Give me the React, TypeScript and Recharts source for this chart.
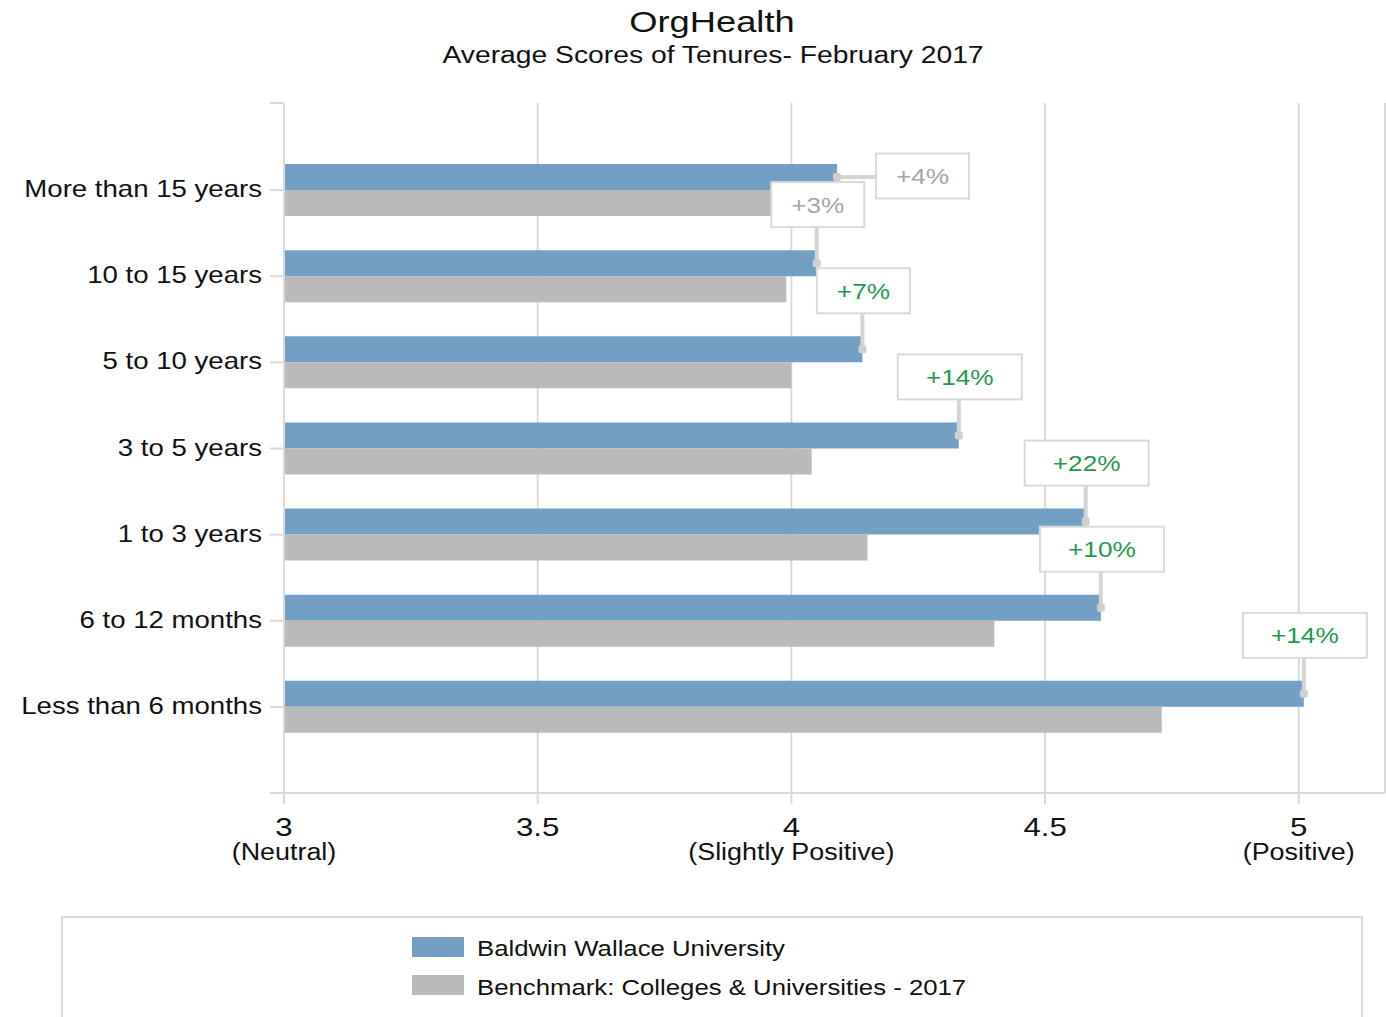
import React from "react";
import * as R from "recharts";

const { BarChart, Bar, XAxis, YAxis, CartesianGrid, LabelList } = R;

const TENURES = [
  "More than 15 years",
  "10 to 15 years",
  "5 to 10 years",
  "3 to 5 years",
  "1 to 3 years",
  "6 to 12 months",
  "Less than 6 months",
];
const BW_SCORES = [4.09, 4.05, 4.14, 4.33, 4.58, 4.61, 5.01];
const BENCHMARK_SCORES = [3.98, 3.99, 4.0, 4.04, 4.15, 4.4, 4.73];
const DIFF_LABELS = ["+4%", "+3%", "+7%", "+14%", "+22%", "+10%", "+14%"];
const DIFF_SIGNIFICANT = [false, false, true, true, true, true, true];
const X_TICKS = [3, 3.5, 4, 4.5, 5];
const X_TICK_NOTES: Record<number, string> = { 3: "(Neutral)", 4: "(Slightly Positive)", 5: "(Positive)" };
const X_MIN = 3;
const X_MAX = 5.17;

const BLUE = "#739fc4";
const GRAY = "#bababa";
const LINE = "#d9d9d9";
const FONT = "'Liberation Sans', Arial, sans-serif";

const data = TENURES.map((t, i) => ({
  tenure: t,
  bw: BW_SCORES[i],
  bench: BENCHMARK_SCORES[i],
  diff: DIFF_LABELS[i],
}));

// the source renders text horizontally stretched, so scale glyphs around the anchor
function WideText({ x, y, anchor = "start", size, sx = 1.2, fill = "#111", children }: any) {
  return (
    <text
      transform={`translate(${x},${y}) scale(${sx},1)`}
      x={0}
      y={0}
      textAnchor={anchor}
      fontSize={size}
      fontFamily={FONT}
      fill={fill}
    >
      {children}
    </text>
  );
}

function CategoryTick({ x, y, payload }: any) {
  return (
    <WideText x={x} y={y + 7} anchor="end" size={23} sx={1.2}>
      {payload.value}
    </WideText>
  );
}

function ValueTick({ x, y, payload }: any) {
  const note = X_TICK_NOTES[payload.value];
  return (
    <g>
      <WideText x={x} y={y + 32} anchor="middle" size={26} sx={1.2}>
        {payload.value}
      </WideText>
      {note && (
        <WideText x={x} y={y + 56} anchor="middle" size={23} sx={1.17}>
          {note}
        </WideText>
      )}
    </g>
  );
}

// label sits on the benchmark bar so it draws above both bars; anchor is the BW bar end
function DiffLabel(props: any) {
  const vb = props.viewBox && props.viewBox.width != null ? props.viewBox : props;
  const { x, y, width, height } = vb;
  const index = props.index;
  const text = DIFF_LABELS[index];
  const pxPerUnit = width / (BENCHMARK_SCORES[index] - X_MIN);
  const ax = x + (BW_SCORES[index] - X_MIN) * pxPerUnit;
  const ay = y - height / 2;
  const boxW = 31 * text.length;
  const boxH = 45;
  let bx: number, by: number, l: number[];
  if (index === 0) {
    bx = ax + 39;
    by = ay - boxH / 2 - 1;
    l = [ax, ay, bx, ay];
  } else {
    bx = ax - boxW / 2 + 1;
    by = ay - 36 - boxH;
    l = [ax, by + boxH, ax, ay];
  }
  return (
    <g>
      <line x1={l[0]} y1={l[1]} x2={l[2]} y2={l[3]} stroke="#d4d4d4" strokeWidth={4} />
      <rect x={ax - 4} y={ay - 4} width={8} height={8} rx={2} fill="#d0d0d0" />
      <rect x={bx} y={by} width={boxW} height={boxH} fill="#fff" stroke={LINE} strokeWidth={2} />
      <WideText
        x={bx + boxW / 2}
        y={by + boxH / 2 + 8}
        anchor="middle"
        size={22}
        sx={1.19}
        fill={DIFF_SIGNIFICANT[index] ? "#1e9a4c" : "#a6a6a6"}
      >
        {text}
      </WideText>
    </g>
  );
}

const usePlotAreaHook = (R as any).usePlotArea;
function AxisEnds() {
  const area = usePlotAreaHook ? usePlotAreaHook() : null;
  if (!area) return null;
  return (
    <g stroke={LINE} strokeWidth={2}>
      <line x1={area.x - 14} x2={area.x} y1={area.y} y2={area.y} />
      <line x1={area.x - 14} x2={area.x} y1={area.y + area.height} y2={area.y + area.height} />
    </g>
  );
}

export default function App() {
  return (
    <div style={{ position: "absolute", left: 0, top: 0, width: 1386, height: 1017, background: "#fff" }}>
      <BarChart
        width={1386}
        height={1017}
        data={data}
        layout="vertical"
        margin={{ top: 103, right: 1, bottom: 0, left: 0 }}
        barGap={0}
        barSize={26}
      >
        <CartesianGrid horizontal={false} stroke={LINE} strokeWidth={2} />
        <XAxis
          type="number"
          domain={[X_MIN, X_MAX]}
          ticks={X_TICKS}
          height={224}
          tickSize={11}
          tickMargin={0}
          tick={<ValueTick />}
          axisLine={{ stroke: LINE, strokeWidth: 2 }}
          tickLine={{ stroke: LINE, strokeWidth: 2 }}
        />
        <YAxis
          type="category"
          dataKey="tenure"
          width={284}
          tickSize={14}
          tickMargin={8}
          interval={0}
          padding={{ top: 44, bottom: 43 }}
          tick={<CategoryTick />}
          axisLine={{ stroke: LINE, strokeWidth: 2 }}
          tickLine={{ stroke: LINE, strokeWidth: 2 }}
        />
        <Bar dataKey="bw" fill={BLUE} isAnimationActive={false} />
        <Bar dataKey="bench" fill={GRAY} isAnimationActive={false}>
          <LabelList dataKey="diff" content={<DiffLabel />} />
        </Bar>
        <AxisEnds />
      </BarChart>
      <svg
        width={1386}
        height={1017}
        style={{ position: "absolute", left: 0, top: 0, pointerEvents: "none" }}
      >
        <WideText x={712} y={32} anchor="middle" size={30} sx={1.21}>
          OrgHealth
        </WideText>
        <WideText x={713} y={63} anchor="middle" size={23} sx={1.23}>
          Average Scores of Tenures- February 2017
        </WideText>
        <rect x={62} y={917} width={1300} height={130} fill="none" stroke={LINE} strokeWidth={2} />
        <rect x={412} y={937} width={52} height={20} fill={BLUE} />
        <WideText x={477} y={956} size={22} sx={1.17}>
          Baldwin Wallace University
        </WideText>
        <rect x={412} y={975} width={52} height={20} fill={GRAY} />
        <WideText x={477} y={995} size={22} sx={1.17}>
          Benchmark: Colleges &amp; Universities - 2017
        </WideText>
      </svg>
    </div>
  );
}
